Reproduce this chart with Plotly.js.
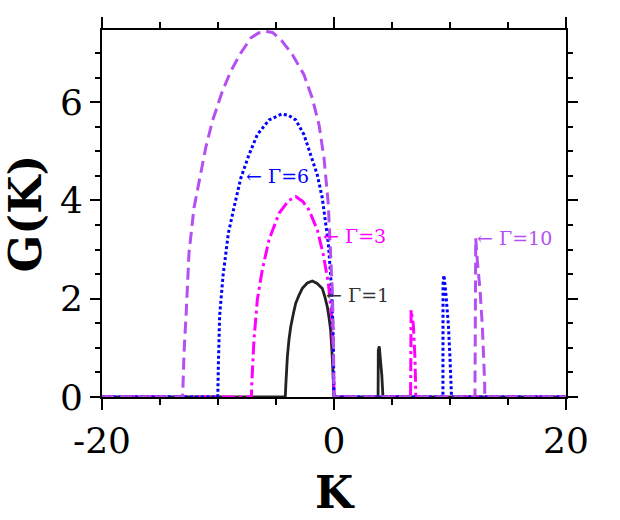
<!DOCTYPE html>
<html>
<head>
<meta charset="utf-8">
<script src="https://cdn.plot.ly/plotly-3.0.1.min.js"></script>
<style>html,body{margin:0;padding:0;background:#fff;}#chart{width:620px;height:520px;}</style>
</head>
<body>
<div id="chart"></div>
<script>
// Γ = 1 (solid black)
var k1 = [-20, -4.2, -4.16, -4.1, -4.02, -3.88, -3.73, -3.5, -3.3, -3.0, -2.73, -2.3, -1.87, -1.45, -1.01, -0.8, -0.58, -0.43, -0.29, -0.15, -0.08, 0, 3.8, 3.82, 3.9, 4.05, 4.12, 4.2, 4.22, 20];
var g1 = [0, 0, 0.21, 0.5, 0.82, 1.17, 1.43, 1.7, 1.91, 2.08, 2.21, 2.32, 2.36, 2.31, 2.21, 2.05, 1.84, 1.62, 1.36, 0.82, 0.5, 0, 0, 0.95, 1.03, 0.7, 0.45, 0.1, 0, 0];
// Γ = 3 (dash-dot magenta)
var k3 = [-20, -7.12, -7.1, -6.9, -6.61, -6.18, -5.6, -4.74, -3.9, -3.3, -2.7, -2.16, -1.44, -0.95, -0.49, -0.2, -0.06, 0, 6.6, 6.61, 6.65, 6.84, 6.98, 7.04, 7.05, 20];
var g3 = [0, 0, 0.21, 1.16, 1.98, 2.59, 3.2, 3.74, 4.0, 4.08, 3.98, 3.81, 3.4, 2.93, 2.32, 1.64, 0.89, 0, 0, 1.6, 1.77, 1.47, 0.79, 0.18, 0, 0];
// Γ = 6 (dotted blue)
var k6 = [-20, -10.02, -9.97, -9.86, -9.57, -9.11, -8.55, -8.04, -7.33, -6.61, -5.6, -4.5, -3.9, -3.3, -2.59, -2.01, -1.44, -1.01, -0.49, -0.2, -0.06, 0, 9.39, 9.4, 9.48, 9.63, 9.86, 10.0, 10.11, 10.13, 20];
var g6 = [0, 0, 0.63, 1.65, 2.46, 3.33, 3.93, 4.45, 4.93, 5.34, 5.64, 5.76, 5.73, 5.64, 5.34, 4.93, 4.52, 4.05, 3.13, 2.18, 1.16, 0, 0, 2.3, 2.48, 2.14, 1.47, 0.79, 0.24, 0, 0];
// Γ = 10 (dashed purple)
var k10 = [-20, -13.05, -13.0, -12.93, -12.73, -12.5, -12.07, -11.64, -11.06, -10.49, -9.63, -8.9, -8.04, -7.16, -6.5, -5.89, -5.3, -4.5, -3.59, -2.59, -1.87, -1.29, -0.86, -0.5, -0.29, -0.15, -0.06, 0, 12.15, 12.16, 12.22, 12.36, 12.59, 12.79, 12.93, 12.99, 13.0, 20];
var g10 = [0, 0, 0.35, 0.89, 1.77, 2.93, 3.85, 4.39, 5.07, 5.61, 6.22, 6.63, 7.0, 7.31, 7.41, 7.44, 7.42, 7.25, 6.97, 6.56, 6.08, 5.54, 4.86, 3.95, 2.99, 2.18, 1.3, 0, 0, 3.0, 3.23, 2.76, 2.18, 1.43, 0.79, 0.28, 0, 0];

var xTickVals = [-20, 0, 20];
var xTickText = ['-20', '0', '20'];
var yTickVals = [0, 2, 4, 6];
var yTickText = ['0', '2', '4', '6'];

var labels = ['\u2190 \u0393=1', '\u2190 \u0393=3', '\u2190 \u0393=6', '\u2190 \u0393=10'];

var cBlack = '#222222', cMag = '#ff00ff', cBlue = '#0000ff', cPurp = '#b44ff2';

var traces = [
  {x: k1, y: g1, mode: 'lines', line: {color: cBlack, width: 2.8}},
  {x: k3, y: g3, mode: 'lines', line: {color: cMag, width: 3, dash: '13px,4px,3px,4px'}},
  {x: k6, y: g6, mode: 'lines', line: {color: cBlue, width: 3, dash: '3px,2.5px'}},
  {x: k10, y: g10, mode: 'lines', line: {color: cPurp, width: 3, dash: '12px,6px'}}
];

var font = 'DejaVu Serif';
var layout = {
  width: 620, height: 520,
  margin: {l: 102, r: 54, t: 30, b: 123},
  paper_bgcolor: '#fff', plot_bgcolor: '#fff',
  showlegend: false,
  font: {family: font, color: '#000'},
  xaxis: {
    range: [-20, 20], tickmode: 'array', tickvals: xTickVals, ticktext: xTickText,
    ticks: 'outside', ticklen: 11, tickwidth: 2, tickcolor: '#000',
    minor: {tickmode: 'linear', tick0: 0, dtick: 5, ticks: 'outside', ticklen: 6, tickwidth: 2, tickcolor: '#000'},
    showline: true, linewidth: 2, linecolor: '#000', mirror: 'ticks',
    showgrid: false, zeroline: false, layer: 'below traces',
    tickfont: {family: font, size: 36, color: '#000'},
    title: {text: '<b>K</b>', font: {family: font, size: 44, color: '#000'}, standoff: 17}
  },
  yaxis: {
    range: [0, 7.47], tickmode: 'array', tickvals: yTickVals, ticktext: yTickText,
    ticks: 'outside', ticklen: 10, tickwidth: 2, tickcolor: '#000',
    minor: {tickmode: 'linear', tick0: 0, dtick: 0.5, ticks: 'outside', ticklen: 5, tickwidth: 2, tickcolor: '#000'},
    showline: true, linewidth: 2, linecolor: '#000', mirror: 'ticks',
    showgrid: false, zeroline: false, layer: 'below traces',
    tickfont: {family: font, size: 36, color: '#000'},
    title: {text: '<b>G(K)</b>', font: {family: font, size: 44, color: '#000'}, standoff: 4}
  },
  annotations: [
    {x: -0.86, y: 2.08, xref: 'x', yref: 'y', text: labels[0], showarrow: false, xanchor: 'left', yanchor: 'middle', font: {family: font, size: 19, color: '#333333'}},
    {x: -1.15, y: 3.28, xref: 'x', yref: 'y', text: labels[1], showarrow: false, xanchor: 'left', yanchor: 'middle', font: {family: font, size: 19, color: cMag}},
    {x: -7.76, y: 4.49, xref: 'x', yref: 'y', text: labels[2], showarrow: false, xanchor: 'left', yanchor: 'middle', font: {family: font, size: 19, color: cBlue}},
    {x: 12.16, y: 3.24, xref: 'x', yref: 'y', text: labels[3], showarrow: false, xanchor: 'left', yanchor: 'middle', font: {family: font, size: 19, color: cPurp}}
  ]
};

Plotly.newPlot('chart', traces, layout, {staticPlot: true, displayModeBar: false});
</script>
</body>
</html>
